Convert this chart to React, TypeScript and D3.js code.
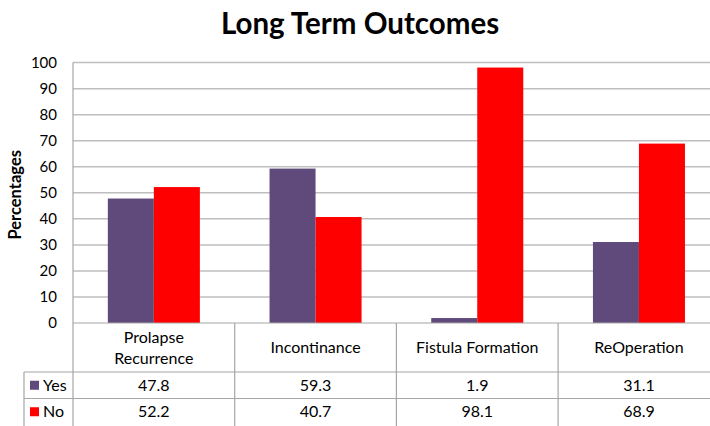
import React from "react";
import * as d3 from "d3";

const categories = ["Prolapse Recurrence", "Incontinance", "Fistula Formation", "ReOperation"];
const categoryLines = [["Prolapse", "Recurrence"], ["Incontinance"], ["Fistula Formation"], ["ReOperation"]];
const yesValues = [47.8, 59.3, 1.9, 31.1];
const noValues = [52.2, 40.7, 98.1, 68.9];
const seriesNames = ["Yes", "No"];
const seriesColors = ["#604A7B", "#FF0000"];
const yTicks = [0, 10, 20, 30, 40, 50, 60, 70, 80, 90, 100];

const W = 710;
const H = 426;
const FONT = "Lato, 'Open Sans', sans-serif";

export default function App() {
  const left = 73;
  const bandW = 161.7;
  const x = d3.scaleBand<string>().domain(categories).range([left, left + bandW * categories.length]).paddingInner(0).paddingOuter(0);
  const inner = d3.scaleBand<string>().domain(seriesNames).range([0, x.bandwidth()]).paddingInner(0).paddingOuter(0.757);
  const y = d3.scaleLinear().domain([0, 100]).range([323, 62.6]);
  const series = [yesValues, noValues];
  const rightEdge = left + bandW * categories.length;
  const catRowBottom = 372;
  const rowH = 26.5;
  const tableLeft = 24;
  const gridColor = "#BEBEBE";
  const tableColor = "#A6A6A6";
  const fs = 16;

  return (
    <svg width={W} height={H} style={{ position: "absolute", left: 0, top: 0, background: "#fff" }}>
      <rect x={0} y={0} width={W} height={H} fill="#fff" />
      <text x={360} y={34} textAnchor="middle" fontFamily={FONT} fontWeight="bold" fontSize={29.5} fill="#000">
        Long Term Outcomes
      </text>
      {yTicks.map((t) => (
        <g key={t}>
          {t > 0 && <line x1={left} x2={rightEdge} y1={y(t)} y2={y(t)} stroke={gridColor} strokeWidth={1.5} />}
          <text x={57} y={y(t)} dy="0.35em" textAnchor="end" fontFamily={FONT} fontSize={15} fill="#000">
            {t}
          </text>
        </g>
      ))}
      <text
        transform={`translate(15.5,${y(50) + 2}) rotate(-90)`}
        textAnchor="middle"
        dy="0.35em"
        fontFamily={FONT}
        fontWeight="bold"
        fontSize={16.5}
        fill="#000"
      >
        Percentages
      </text>
      {categories.map((c, i) =>
        series.map((vals, s) => (
          <rect
            key={c + s}
            x={(x(c) as number) + (inner(seriesNames[s]) as number)}
            y={y(vals[i])}
            width={inner.bandwidth()}
            height={y(0) - y(vals[i])}
            fill={seriesColors[s]}
          />
        ))
      )}
      <line x1={left} x2={left} y1={y(100)} y2={H} stroke={tableColor} strokeWidth={1.2} />
      <line x1={left} x2={rightEdge} y1={y(0)} y2={y(0)} stroke={tableColor} strokeWidth={1.2} />
      {categories.map((c, i) => (
        <line key={"v" + i} x1={(x(c) as number) + bandW} x2={(x(c) as number) + bandW} y1={y(0)} y2={H} stroke={tableColor} strokeWidth={1.2} />
      ))}
      <line x1={tableLeft} x2={rightEdge} y1={catRowBottom} y2={catRowBottom} stroke={tableColor} strokeWidth={1.2} />
      <line x1={tableLeft} x2={rightEdge} y1={catRowBottom + rowH} y2={catRowBottom + rowH} stroke={tableColor} strokeWidth={1.2} />
      <line x1={tableLeft} x2={tableLeft} y1={catRowBottom} y2={H} stroke={tableColor} strokeWidth={1.2} />
      {categories.map((c, i) => {
        const lines = categoryLines[i];
        const cx = (x(c) as number) + bandW / 2;
        const cy = (y(0) + catRowBottom) / 2;
        const lh = 21;
        return (
          <text key={"cl" + i} textAnchor="middle" fontFamily={FONT} fontSize={fs} fill="#000">
            {lines.map((l, k) => (
              <tspan key={k} x={cx} y={cy + (k - (lines.length - 1) / 2) * lh} dy="0.35em">
                {l}
              </tspan>
            ))}
          </text>
        );
      })}
      {series.map((vals, s) => {
        const rowCy = catRowBottom + rowH * s + rowH / 2;
        return (
          <g key={"row" + s}>
            <rect x={30} y={rowCy - 4.5} width={9} height={9} fill={seriesColors[s]} />
            <text x={43} y={rowCy} dy="0.35em" fontFamily={FONT} fontSize={fs} fill="#000">
              {seriesNames[s]}
            </text>
            {categories.map((c, i) => (
              <text key={c} x={(x(c) as number) + bandW / 2} y={rowCy} dy="0.35em" textAnchor="middle" fontFamily={FONT} fontSize={fs} fill="#000">
                {vals[i]}
              </text>
            ))}
          </g>
        );
      })}
    </svg>
  );
}
